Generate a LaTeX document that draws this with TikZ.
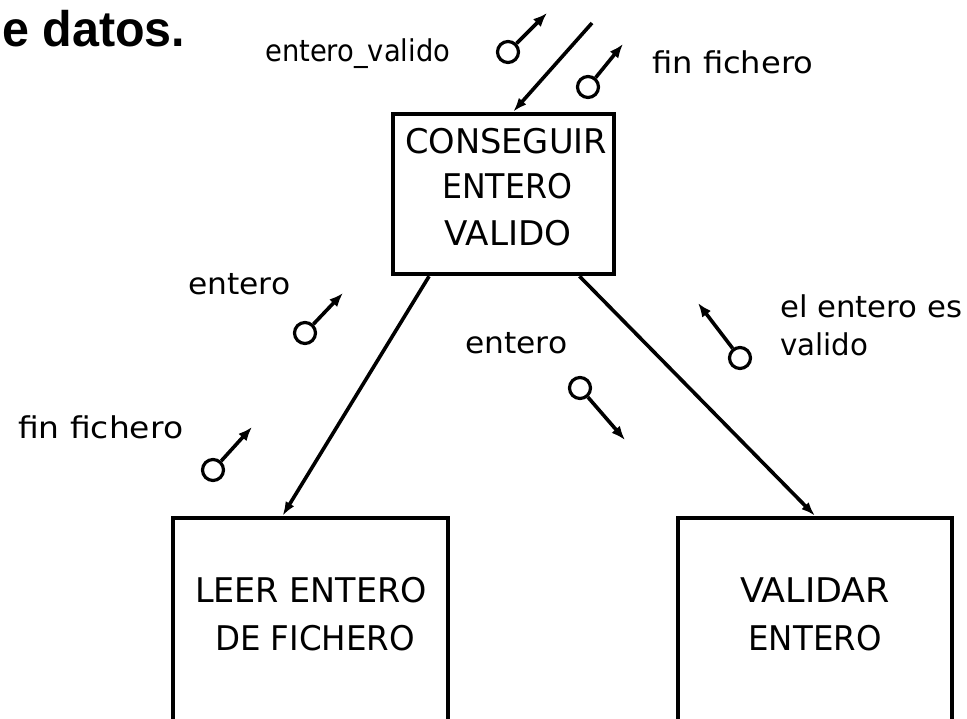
\documentclass[tikz,border=0pt]{standalone}
\usepackage{fontspec}
\setmainfont{DejaVu Sans}
\newfontfamily\headfont{Liberation Sans}
\usepackage{graphicx}
\usetikzlibrary{arrows.meta,calc}
\newsavebox\fitbox
\newcommand\fitw[2]{\sbox\fitbox{#2}\pgfmathsetmacro\fitr{#1/\the\wd\fitbox}\scalebox{\fitr}[1]{\usebox\fitbox}}
\begin{document}
\begin{tikzpicture}[x=1pt,y=-1pt,
  modbox/.style={draw, line width=4.5pt, rectangle, inner sep=0pt},
  conn/.style={line width=3.6pt, -{Latex[length=14pt,width=10pt]}},
  cpl/.style={circle, draw, line width=3.2pt, minimum size=21pt, inner sep=0pt},
  cplarrow/.style={line width=3.6pt, -{Latex[length=14pt,width=11pt]}},
  lbl/.style={font=\fontsize{30}{32}\selectfont, inner sep=0pt, anchor=base west},
  btxt/.style={font=\fontsize{34}{36}\selectfont, inner sep=0pt, anchor=base}]
\useasboundingbox (0,0) rectangle (967,718);
\clip (0,0) rectangle (967,718);
% title fragment
\node[font=\headfont\bfseries\fontsize{50}{52}\selectfont, inner sep=0pt, anchor=base west] (title) at (2,46) {\fitw{183}{e datos.}};
% modules
\node[modbox, minimum width=221pt, minimum height=160pt] (cev) at (503.5,194) {};
\node[modbox, minimum width=275pt, minimum height=222pt] (lef) at (310.5,629) {};
\node[modbox, minimum width=274pt, minimum height=222pt] (ve) at (815,629) {};
% module texts
\node[btxt] (cevA) at (506,153) {\fitw{202}{CONSEGUIR}};
\node[btxt] (cevB) at (507,198) {\fitw{130}{ENTERO}};
\node[btxt] (cevC) at (508,245) {\fitw{127}{VALIDO}};
\node[btxt] (lefA) at (311,602) {\fitw{232}{LEER ENTERO}};
\node[btxt] (lefB) at (315,650) {\fitw{200}{DE FICHERO}};
\node[btxt] (veA) at (815,602) {\fitw{150}{VALIDAR}};
\node[btxt] (veB) at (815,650) {\fitw{133}{ENTERO}};
% connectors
\coordinate (parent) at (592,23);
\coordinate (cevTop) at ($(cev.north west)!0.543!(cev.north east)$);
\coordinate (cevSL) at ($(cev.south west)!0.17!(cev.south east)$);
\coordinate (cevSR) at ($(cev.south west)!0.837!(cev.south east)$);
\coordinate (lefTop) at ($(lef.north west)!0.4!(lef.north east)$);
\draw[conn] (parent) -- (cevTop);
\draw[conn] (cevSL) -- (lefTop);
\draw[conn] (cevSR) -- (ve.north);
% couples
\node[cpl] (c1) at (508,52) {};
\coordinate (t1) at (547,13);
\draw[cplarrow] (c1) -- (t1);
\node[cpl] (c2) at (588,87) {};
\coordinate (t2) at (623,44);
\draw[cplarrow] (c2) -- (t2);
\node[cpl] (c3) at (305,333) {};
\coordinate (t3) at (343,293);
\draw[cplarrow] (c3) -- (t3);
\node[cpl] (c4) at (213,470) {};
\coordinate (t4) at (252,427);
\draw[cplarrow] (c4) -- (t4);
\node[cpl] (c5) at (580,388) {};
\coordinate (t5) at (625,440);
\draw[cplarrow] (c5) -- (t5);
\node[cpl] (c6) at (740,358) {};
\coordinate (t6) at (698,303);
\draw[cplarrow] (c6) -- (t6);
% labels
\node[lbl] (l1) at (265,61) {\fitw{185}{entero\_valido}};
\node[lbl] (l2) at (652,73) {\fitw{161}{fin fichero}};
\node[lbl] (l3) at (188,294) {\fitw{102}{entero}};
\node[lbl] (l4) at (18,438) {\fitw{165}{fin fichero}};
\node[lbl] (l5) at (465,353) {\fitw{102}{entero}};
\node[lbl] (l6a) at (780,317) {\fitw{182}{el entero es}};
\node[lbl] (l6b) at (780,355) {\fitw{88}{valido}};
\end{tikzpicture}
\end{document}
